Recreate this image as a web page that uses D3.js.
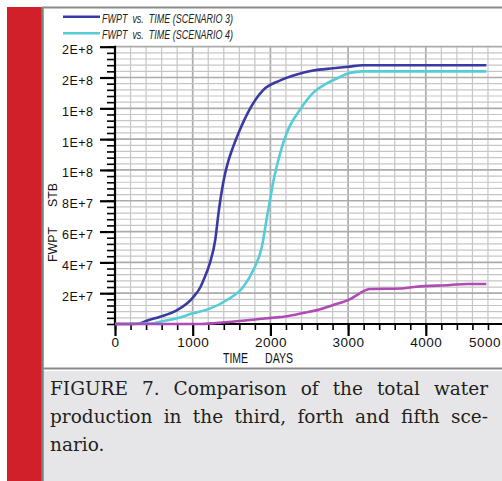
<!DOCTYPE html>
<html><head><meta charset="utf-8">
<script src="https://cdn.jsdelivr.net/npm/d3@7"></script>
<style>body{margin:0;background:#fff}svg{display:block}</style>
</head><body>
<svg id="c" width="502" height="481"></svg>
<script>
// ---------- data ----------
const seriesNames = ["FWPT vs. TIME (SCENARIO 3)", "FWPT vs. TIME (SCENARIO 4)", "FWPT vs. TIME (SCENARIO 5)"];
const legendNames = ["FWPT  vs.  TIME (SCENARIO 3)", "FWPT  vs.  TIME (SCENARIO 4)"];
const s3Days   = [0, 300, 400, 580, 800, 1000, 1100, 1140, 1220, 1290, 1330, 1370, 1410, 1460, 1520, 1590, 1660, 1740, 1910, 2120, 2340, 2550, 2810, 3000, 3190, 4780];
const s3Values = [0, 0.02e7, 0.2e7, 0.47e7, 0.9e7, 1.7e7, 2.4e7, 2.86e7, 3.94e7, 5.45e7, 7.1e7, 8.5e7, 9.6e7, 1.06e8, 1.15e8, 1.24e8, 1.32e8, 1.40e8, 1.52e8, 1.58e8, 1.62e8, 1.645e8, 1.66e8, 1.67e8, 1.68e8, 1.68e8];
const s4Days   = [0, 500, 580, 800, 1000, 1220, 1440, 1650, 1780, 1890, 1950, 2000, 2040, 2090, 2210, 2380, 2550, 2720, 2900, 3020, 3190, 4780];
const s4Values = [0, 0.05e7, 0.15e7, 0.37e7, 0.69e7, 1.0e7, 1.56e7, 2.4e7, 3.5e7, 5.0e7, 6.75e7, 8.2e7, 9.3e7, 1.04e8, 1.24e8, 1.39e8, 1.5e8, 1.56e8, 1.605e8, 1.63e8, 1.64e8, 1.64e8];
const s5Days   = [0, 1100, 1300, 1500, 1740, 2080, 2170, 2500, 2600, 2810, 3020, 3150, 3280, 3670, 3880, 4310, 4530, 4780];
const s5Values = [0, 0, 0.07e7, 0.15e7, 0.26e7, 0.43e7, 0.47e7, 0.8e7, 0.9e7, 1.23e7, 1.6e7, 1.99e7, 2.27e7, 2.3e7, 2.42e7, 2.53e7, 2.6e7, 2.6e7];
const seriesColors = ["#3a3aa4", "#55cdd6", "#b04ab5"];
const xTickValues = [0, 1000, 2000, 3000, 4000, 5000];
const xTickLabels = ["0", "1000", "2000", "3000", "4000", "5000"];
const yTickValues = [2e7, 4e7, 6e7, 8e7, 1e8, 1.2e8, 1.4e8, 1.6e8, 1.8e8];
const yTickLabels = ["2E+7", "4E+7", "6E+7", "8E+7", "1E+8", "1E+8", "1E+8", "2E+8", "2E+8"];
const captionLines = ["FIGURE 7. Comparison of the total water", "production in the third, forth and fifth sce-", "nario."];

// ---------- frame ----------
const svg = d3.select("#c");
svg.append("rect").attr("x", 0).attr("y", 0).attr("width", 502).attr("height", 481).attr("fill", "#fff");
svg.append("rect").attr("x", 7).attr("y", 7).attr("width", 35).attr("height", 474).attr("fill", "#d1202a");
svg.append("rect").attr("x", 43).attr("y", 371).attr("width", 459).attr("height", 110).attr("fill", "#e6e6e8");
svg.append("line").attr("x1", 42.5).attr("x2", 42.5).attr("y1", 7).attr("y2", 481).attr("stroke", "#7f7f7f").attr("stroke-width", 2.5);
svg.append("line").attr("x1", 42).attr("x2", 502).attr("y1", 7.5).attr("y2", 7.5).attr("stroke", "#8a8a8a").attr("stroke-width", 2);
svg.append("line").attr("x1", 42).attr("x2", 502).attr("y1", 368.5).attr("y2", 368.5).attr("stroke", "#8a8a8a").attr("stroke-width", 2);

// ---------- scales ----------
const x = d3.scaleLinear().domain([0, 5000]).range([115, 503.5]);
const y = d3.scaleLinear().domain([0, 1.8e8]).range([324, 46.7]);
const xRight = 502;

// grid
const g = svg.append("g");
const xMinor = d3.range(0, 5001, 200);
const yMinor = d3.range(0, 1.8e8 + 1, 4e6);
g.selectAll("line.vx").data(xMinor).join("line")
  .attr("x1", d => x(d)).attr("x2", d => x(d)).attr("y1", y(1.8e8)).attr("y2", y(0))
  .attr("stroke", d => d % 1000 === 0 ? "#ababab" : "#c6c6c6")
  .attr("stroke-width", d => d % 1000 === 0 ? 1.7 : 1.2);
g.selectAll("line.hy").data(yMinor).join("line")
  .attr("x1", x(0)).attr("x2", xRight).attr("y1", d => y(d)).attr("y2", d => y(d))
  .attr("stroke", (d, i) => i % 5 === 0 ? "#ababab" : "#c6c6c6")
  .attr("stroke-width", (d, i) => i % 5 === 0 ? 1.7 : 1.2);

// ---------- axes ----------
const axisFont = "Liberation Sans, Arial, sans-serif";
const yMinorAx = svg.append("g").attr("transform", `translate(${x(0)},0)`)
  .call(d3.axisLeft(y).tickValues(yMinor).tickSize(8).tickFormat(""));
yMinorAx.select(".domain").remove();
yMinorAx.selectAll("line").attr("stroke", "#000").attr("stroke-width", 1.6);

const yAx = svg.append("g").attr("transform", `translate(${x(0)},0)`)
  .call(d3.axisLeft(y).tickValues(yTickValues).tickSize(15).tickPadding(6.5)
    .tickFormat((d, i) => yTickLabels[i]));
yAx.select(".domain").remove();
yAx.selectAll("line").attr("stroke", "#000").attr("stroke-width", 2.2);
yAx.selectAll("text").attr("font-family", axisFont).attr("font-size", 12.5)
  .attr("letter-spacing", 0.5).attr("fill", "#111").attr("dy", "0.55em");

const xMinorAx = svg.append("g").attr("transform", `translate(0,${y(0)})`)
  .call(d3.axisBottom(x).tickValues(xMinor.filter(d => x(d) <= xRight)).tickSize(6).tickFormat(""));
xMinorAx.select(".domain").remove();
xMinorAx.selectAll("line").attr("stroke", "#000").attr("stroke-width", 1.6);

const xAx = svg.append("g").attr("transform", `translate(0,${y(0)})`)
  .call(d3.axisBottom(x).tickValues(xTickValues).tickSize(12).tickPadding(1)
    .tickFormat((d, i) => xTickLabels[i]));
xAx.select(".domain").remove();
xAx.selectAll("line").attr("stroke", "#000").attr("stroke-width", 2.2);
xAx.selectAll("text").attr("font-family", axisFont).attr("font-size", 13.5)
  .attr("letter-spacing", 0.5).attr("fill", "#111");
xAx.selectAll(".tick").filter(d => d === 5000).select("text")
  .attr("text-anchor", "end").attr("x", -3);

// axis lines
svg.append("line").attr("x1", x(0)).attr("x2", x(0)).attr("y1", y(1.8e8) - 1).attr("y2", y(0) + 1)
  .attr("stroke", "#000").attr("stroke-width", 2.2);
svg.append("line").attr("x1", x(0) - 1).attr("x2", xRight).attr("y1", y(0)).attr("y2", y(0))
  .attr("stroke", "#000").attr("stroke-width", 2.2);

// ---------- lines (drawn over the axis, as in the reference) ----------
const line = d3.line().x(d => x(d[0])).y(d => y(d[1])).curve(d3.curveMonotoneX);
const series = [
  d3.zip(s3Days, s3Values),
  d3.zip(s4Days, s4Values),
  d3.zip(s5Days, s5Values)
];
svg.selectAll("path.s").data(series).join("path")
  .attr("d", line).attr("fill", "none")
  .attr("stroke", (d, i) => seriesColors[i]).attr("stroke-width", 2.6);

// axis titles
svg.append("text").attr("transform", "translate(56.5,262) rotate(-90)")
  .attr("font-family", axisFont).attr("font-size", 13).attr("fill", "#111")
  .attr("textLength", 35).attr("lengthAdjust", "spacingAndGlyphs").text("FWPT");
svg.append("text").attr("transform", "translate(56.5,207) rotate(-90)")
  .attr("font-family", axisFont).attr("font-size", 13).attr("fill", "#111")
  .attr("textLength", 24).attr("lengthAdjust", "spacingAndGlyphs").text("STB");
svg.append("text").attr("x", 223).attr("y", 363)
  .attr("font-family", axisFont).attr("font-size", 15).attr("fill", "#111")
  .attr("textLength", 25).attr("lengthAdjust", "spacingAndGlyphs").text("TIME");
svg.append("text").attr("x", 265).attr("y", 363)
  .attr("font-family", axisFont).attr("font-size", 15).attr("fill", "#111")
  .attr("textLength", 28).attr("lengthAdjust", "spacingAndGlyphs").text("DAYS");

// ---------- legend ----------
const leg = svg.append("g");
legendNames.forEach((name, i) => {
  const ly = 16.7 + i * 16.6;
  leg.append("line").attr("x1", 63).attr("x2", 100).attr("y1", ly).attr("y2", ly)
    .attr("stroke", seriesColors[i]).attr("stroke-width", 2.4);
  leg.append("text").attr("x", 102).attr("y", ly + 6)
    .attr("font-family", axisFont).attr("font-size", 12).attr("font-style", "italic")
    .attr("fill", "#222").attr("textLength", 131).attr("lengthAdjust", "spacingAndGlyphs")
    .attr("xml:space", "preserve").text(name);
});

// ---------- caption (justified) ----------
const capFont = "'DejaVu Serif', 'Liberation Serif', serif";
const capLeft = 50, capRight = 488;
captionLines.forEach((ln, li) => {
  const by = 395 + li * 28;
  const words = ln.split(" ");
  const justify = li < captionLines.length - 1;
  const nodes = words.map(w => svg.append("text").attr("y", by)
    .attr("font-family", capFont).attr("font-size", 18.5).attr("fill", "#231f20").text(w));
  const widths = nodes.map(n => n.node().getComputedTextLength());
  const total = d3.sum(widths);
  const gap = justify && words.length > 1 ? (capRight - capLeft - total) / (words.length - 1) : 5;
  let cx = capLeft;
  nodes.forEach((n, i) => { n.attr("x", cx); cx += widths[i] + gap; });
});
</script>
</body></html>
